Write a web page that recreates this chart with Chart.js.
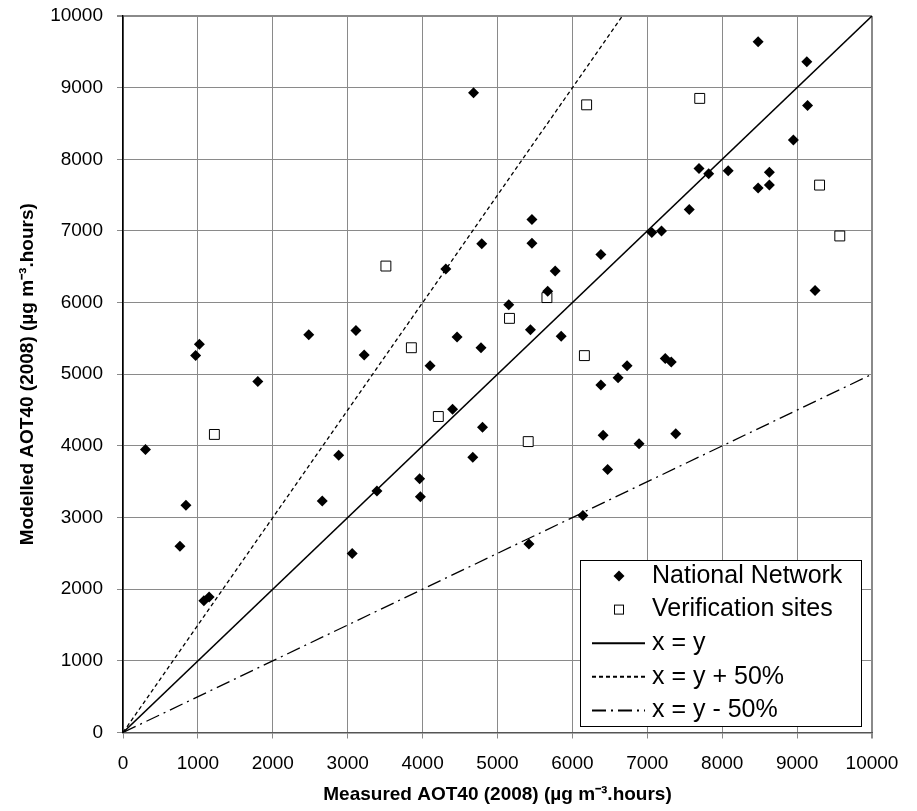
<!DOCTYPE html>
<html>
<head>
<meta charset="utf-8">
<script src="https://cdn.jsdelivr.net/npm/chart.js@4"></script>
<style>
  html, body { margin: 0; padding: 0; background: #fff; }
</style>
</head>
<body>
<canvas id="aotChart" width="917" height="811"></canvas>
<script>
// Measured vs modelled AOT40 (2008)
const nationalX = [4310, 970, 1020, 1800, 2480, 3110, 3220, 4100, 4460, 4680,
  8480, 9130, 9140, 8950, 7690, 7820, 8080, 8630, 8480, 8630,
  7560, 5460, 5460, 4790, 7060, 7190, 6380, 5770, 5670, 5150,
  4780, 5440, 5850, 9240, 6380, 6610, 6730, 7240, 7320, 300,
  840, 760, 1080, 1150, 2660, 2880, 3060, 3390, 3960, 3970,
  4400, 4800, 4670, 6410, 6890, 7380, 6470, 6140, 5420];
const nationalY = [6470, 5260, 5420, 4900, 5550, 5610, 5270, 5120, 5520, 8930,
  9640, 9360, 8750, 8270, 7870, 7800, 7840, 7820, 7600, 7640,
  7300, 7160, 6830, 6820, 6980, 7000, 6670, 6440, 6160, 5970,
  5370, 5620, 5530, 6170, 4850, 4950, 5120, 5220, 5170, 3950,
  3170, 2600, 1840, 1890, 3230, 3870, 2500, 3370, 3540, 3290,
  4510, 4260, 3840, 4150, 4030, 4170, 3670, 3030, 2630];

const verifX = [3510, 3850, 6190, 7700, 9300, 9570, 5660, 5160, 6160, 1220, 4210, 5410];
const verifY = [6510, 5370, 8760, 8850, 7640, 6930, 6070, 5780, 5260, 4160, 4410, 4060];

// reference lines: x = y, x = y + 50%, x = y - 50%
const equalX = [0, 10000];
const equalY = [0, 10000];
const plusX = [0, 6667];
const plusY = [0, 10000];
const minusX = [0, 10000];
const minusY = [0, 5000];

const axisMin = 0;
const axisMax = 10000;
const axisStep = 1000;

const toPoints = (xs, ys) => xs.map((x, i) => ({ x: x, y: ys[i] }));

const fontFamily = "'Liberation Sans', Arial, sans-serif";

// legend box drawn inside the plot area, bottom right
const boxLegend = {
  id: "boxLegend",
  afterDraw(chart) {
    const ctx = chart.ctx;
    const area = chart.chartArea;
    const w = 281, h = 166;
    const left = area.right - 11 - w;
    const top = area.bottom - 6.5 - h;
    ctx.save();
    ctx.fillStyle = "#fff";
    ctx.fillRect(left, top, w, h);
    ctx.strokeStyle = "#000";
    ctx.lineWidth = 1;
    ctx.strokeRect(left + 0.5, top + 0.5, w, h);

    const textX = left + 72;
    const markX = left + 39;
    ctx.font = "25px " + fontFamily;
    ctx.textBaseline = "middle";
    ctx.fillStyle = "#000";

    chart.data.datasets.forEach((ds, i) => {
      const y = top + 16 + i * 33.6;
      if (ds.showLine) {
        ctx.beginPath();
        ctx.setLineDash(ds.borderDash || []);
        ctx.lineWidth = 2;
        ctx.strokeStyle = "#000";
        ctx.moveTo(left + 12, y);
        ctx.lineTo(left + 65, y);
        ctx.stroke();
        ctx.setLineDash([]);
      } else if (ds.pointStyle === "rectRot") {
        ctx.beginPath();
        ctx.moveTo(markX, y - 5.5);
        ctx.lineTo(markX + 5.5, y);
        ctx.lineTo(markX, y + 5.5);
        ctx.lineTo(markX - 5.5, y);
        ctx.closePath();
        ctx.fillStyle = "#000";
        ctx.fill();
      } else {
        ctx.fillStyle = "#fff";
        ctx.fillRect(markX - 5, y - 5, 10, 10);
        ctx.lineWidth = 1;
        ctx.strokeStyle = "#000";
        ctx.strokeRect(markX - 4.5, y - 4.5, 9, 9);
      }
      ctx.fillStyle = "#000";
      ctx.fillText(ds.label, textX, y);
    });
    ctx.restore();
  },
};

const gridWidth = (ctx) => (ctx.tick && ctx.tick.value === axisMax ? 2 : 1);

// fixed axis sizes, no extra label padding around the plot area
const fixX = (scale) => {
  scale.height = 78.5;
  scale.paddingLeft = 0;
  scale.paddingRight = 0;
};
const fixY = (scale) => {
  scale.width = 123;
  scale.paddingTop = 0;
  scale.paddingBottom = 0;
};

const ctx = document.querySelector("#aotChart").getContext("2d");
new Chart(ctx, {
  type: "scatter",
  data: {
    datasets: [
      {
        label: "National Network",
        data: toPoints(nationalX, nationalY),
        pointStyle: "rectRot",
        pointRadius: 5.5,
        backgroundColor: "#000",
        borderColor: "#000",
        borderWidth: 0,
      },
      {
        label: "Verification sites",
        data: toPoints(verifX, verifY),
        pointStyle: "rect",
        pointRadius: 7,
        backgroundColor: "#fff",
        borderColor: "#000",
        borderWidth: 1,
      },
      {
        label: "x = y",
        data: toPoints(equalX, equalY),
        showLine: true,
        pointRadius: 0,
        borderColor: "#000",
        borderWidth: 1.6,
      },
      {
        label: "x = y + 50%",
        data: toPoints(plusX, plusY),
        showLine: true,
        pointRadius: 0,
        borderColor: "#000",
        borderWidth: 1.3,
        borderDash: [4, 3],
      },
      {
        label: "x = y - 50%",
        data: toPoints(minusX, minusY),
        showLine: true,
        pointRadius: 0,
        borderColor: "#000",
        borderWidth: 1.3,
        borderDash: [14, 5, 2, 5],
      },
    ],
  },
  options: {
    responsive: false,
    animation: false,
    layout: { padding: { left: 0, right: 45, top: 16, bottom: 0 } },
    plugins: {
      legend: { display: false },
      tooltip: { enabled: false },
    },
    scales: {
      x: {
        type: "linear",
        min: axisMin,
        max: axisMax,
        afterFit: fixX,
        ticks: {
          stepSize: axisStep,
          color: "#000",
          padding: 14,
          font: { family: fontFamily, size: 19 },
          callback: (v) => String(v),
        },
        grid: { color: "#8a8a8a", lineWidth: gridWidth, tickLength: 6 },
        border: { color: "#555", width: 1.5 },
        title: {
          display: true,
          text: "Measured AOT40 (2008) (µg m⁻³.hours)",
          color: "#000",
          font: { family: fontFamily, size: 19, weight: "bold" },
          padding: { top: 0, bottom: 5 },
        },
      },
      y: {
        type: "linear",
        min: axisMin,
        max: axisMax,
        afterFit: fixY,
        ticks: {
          stepSize: axisStep,
          color: "#000",
          padding: 14,
          font: { family: fontFamily, size: 19 },
          callback: (v) => String(v),
        },
        grid: { color: "#8a8a8a", lineWidth: gridWidth, tickLength: 6 },
        border: { color: "#000", width: 1.5 },
        title: {
          display: true,
          text: "Modelled AOT40 (2008) (µg m⁻³.hours)",
          color: "#000",
          font: { family: fontFamily, size: 19, weight: "bold" },
          padding: { top: 16, bottom: 0 },
        },
      },
    },
  },
  plugins: [boxLegend],
});
</script>
</body>
</html>
